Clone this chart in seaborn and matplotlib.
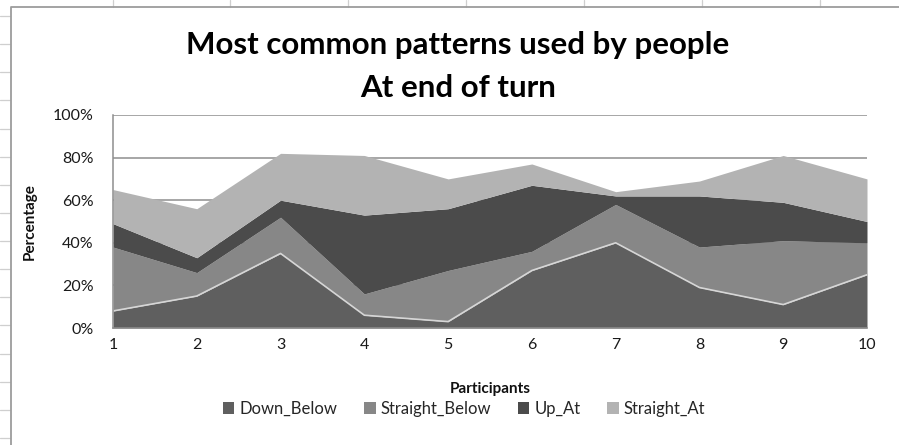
import numpy as np
import pandas as pd
import matplotlib
matplotlib.use("Agg")
import matplotlib.pyplot as plt
from matplotlib.lines import Line2D
from matplotlib.patches import Patch
import seaborn as sns

# Share of each pattern (%) per participant
participants = [1, 2, 3, 4, 5, 6, 7, 8, 9, 10]
down_below = [8, 15, 35, 6, 3, 27, 40, 19, 11, 25]
straight_below = [30, 11, 17, 10, 24, 9, 18, 19, 30, 15]
up_at = [11, 7, 8, 37, 29, 31, 4, 24, 18, 10]
straight_at = [16, 23, 22, 28, 14, 10, 2, 7, 22, 20]

series_names = ["Down_Below", "Straight_Below", "Up_At", "Straight_At"]
series_colors = ["#5f5f5f", "#878787", "#4b4b4b", "#b3b3b3"]
y_ticks = [0, 20, 40, 60, 80, 100]
y_tick_labels = ["0%", "20%", "40%", "60%", "80%", "100%"]

df = pd.DataFrame({
    "Participant": participants,
    "Down_Below": down_below,
    "Straight_Below": straight_below,
    "Up_At": up_at,
    "Straight_At": straight_at,
})

sns.set_theme(style="white")
plt.rcParams["font.family"] = ["Lato", "DejaVu Sans"]

W, H = 899, 445
fig = plt.figure(figsize=(W / 100, H / 100), dpi=100)
fig.patch.set_facecolor("white")


def fx(px):
    return px / W


def fy(py):
    return 1 - py / H


# Worksheet cell lines peeking out around the chart object
for cx in [113, 230, 348, 466, 584, 702, 820]:
    fig.add_artist(Line2D([fx(cx), fx(cx)], [fy(0), fy(7)], color="#cfcfcf", lw=0.9))
for i in range(16):
    ry = 16 + i * 28.13
    fig.add_artist(Line2D([fx(0), fx(10)], [fy(ry), fy(ry)], color="#cfcfcf", lw=0.9))
# Chart object border
fig.add_artist(Line2D([fx(10.5), fx(10.5), fx(W)], [fy(H), fy(7), fy(7)],
                      color="#9c9c9c", lw=1.3))

ax_left, ax_right = 113, 867
ax = fig.add_axes([fx(ax_left), fy(328), fx(ax_right) - fx(ax_left), fy(115) - fy(328)])
ax.set_facecolor("white")

# Stacked areas built from cumulative sums
base = np.zeros(len(df))
for name, color in zip(series_names, series_colors):
    top = base + df[name].to_numpy()
    ax.fill_between(df["Participant"], base, top, color=color, lw=0, zorder=2)
    base = top

# Light rim along the top of the lowest band
cum = df[["Participant"]].copy()
cum["edge"] = df["Down_Below"]
sns.lineplot(data=cum, x="Participant", y="edge", ax=ax, color="#d6d6d6",
             lw=1.2, zorder=3, legend=False)

ax.set_xlim(1, 10)
ax.set_ylim(0, 100)
ax.set_xticks(participants)
ax.set_xticklabels([str(p) for p in participants])
ax.set_yticks(y_ticks)
ax.set_yticklabels(y_tick_labels)
for yv in y_ticks[1:]:
    ax.axhline(yv, color="#8e8e8e", lw=1.1, zorder=1)

for side in ["top", "right"]:
    ax.spines[side].set_visible(False)
for side in ["left", "bottom"]:
    ax.spines[side].set_color("#8e8e8e")
    ax.spines[side].set_linewidth(1.1)
    ax.spines[side].set_zorder(4)

ax.tick_params(axis="x", length=0, pad=7, labelsize=11.5, colors="#1a1a1a")
ax.tick_params(axis="y", length=0, pad=14, labelsize=11.5, colors="#1a1a1a")

ax.set_xlabel("Participants", fontsize=11, fontweight="bold", labelpad=22, color="#111111")
ax.set_ylabel("Percentage", fontsize=11, fontweight="bold", color="#111111")
ax.yaxis.set_label_coords((37 - ax_left) / (ax_right - ax_left), 0.5)

fig.text(fx(458), fy(45), "Most common patterns used by people", ha="center", va="center",
         fontsize=22.5, fontweight="bold", color="#000000")
fig.text(fx(458), fy(88), "At end of turn", ha="center", va="center",
         fontsize=22.5, fontweight="bold", color="#000000")

handles = [Patch(facecolor=c, edgecolor="none", label=n)
           for n, c in zip(series_names, series_colors)]
fig.legend(handles=handles, loc="center", bbox_to_anchor=(fx(464), fy(409)), ncol=4,
           frameon=False, fontsize=12, handlelength=0.7, handleheight=0.7,
           handletextpad=0.3, columnspacing=1.6)

fig.savefig("out.png", dpi=100, facecolor="white")
